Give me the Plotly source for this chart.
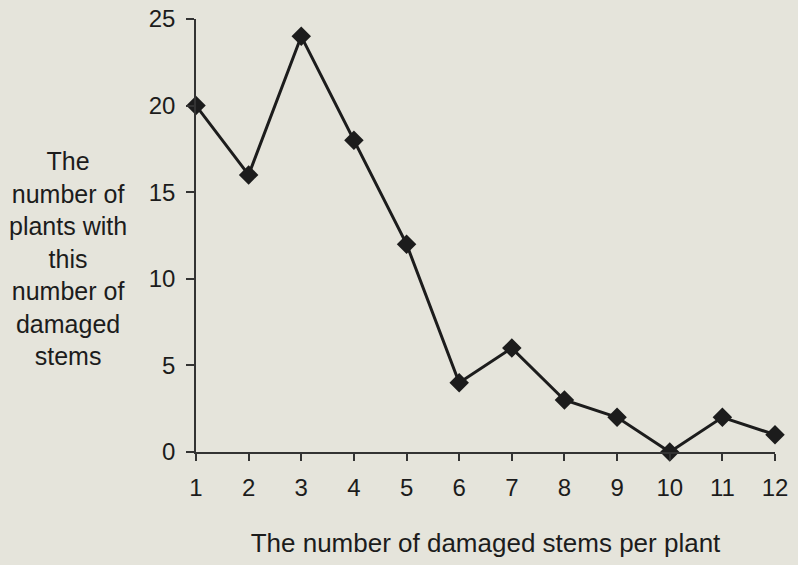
import plotly.graph_objects as go

stems = [1, 2, 3, 4, 5, 6, 7, 8, 9, 10, 11, 12]
plants = [20, 16, 24, 18, 12, 4, 6, 3, 2, 0, 2, 1]
y_ticks = [0, 5, 10, 15, 20, 25]

bg = "#e5e4db"
ink = "#1c1c1c"
L, R, T, B = 196, 23, 19, 113
W, H = 798, 565

fig = go.Figure()
fig.add_trace(go.Scatter(
    x=stems, y=plants, mode="lines+markers",
    line=dict(color=ink, width=3),
    marker=dict(symbol="diamond", size=15, color=ink),
    cliponaxis=False, showlegend=False,
))

fig.update_layout(
    width=W, height=H,
    paper_bgcolor=bg, plot_bgcolor=bg,
    margin=dict(l=L, r=R, t=T, b=B, autoexpand=False),
    font=dict(family="Liberation Sans, Arial", size=24, color=ink),
    xaxis=dict(range=[1, 12], tickvals=stems, showgrid=False, zeroline=False,
               automargin=False,
               showline=True, linecolor="#333333", linewidth=1.5,
               ticks="outside", ticklen=7, tickcolor="#333333", tickwidth=1.5,
               ticklabelstandoff=6,
               title=dict(text="The number of damaged stems per plant", standoff=34,
                          font=dict(size=26))),
    yaxis=dict(range=[0, 25], tickvals=y_ticks, showgrid=False, zeroline=False,
               automargin=False,
               showline=True, linecolor="#333333", linewidth=1.5,
               ticks="outside", ticklen=8, tickcolor="#333333", tickwidth=1.5,
               ticklabelstandoff=6),
)

fig.add_annotation(
    text="The<br>number of<br>plants with<br>this<br>number of<br>damaged<br>stems",
    xref="paper", yref="paper",
    x=(68 - L) / (W - L - R), y=(H - B - 258) / (H - B - T),
    xanchor="center", yanchor="middle",
    showarrow=False, align="center", font=dict(size=25),
)

fig.write_html(
    "out.html",
    config={"displayModeBar": False},
    post_script="document.body.style.margin='0';document.body.style.background='%s';" % bg,
)
